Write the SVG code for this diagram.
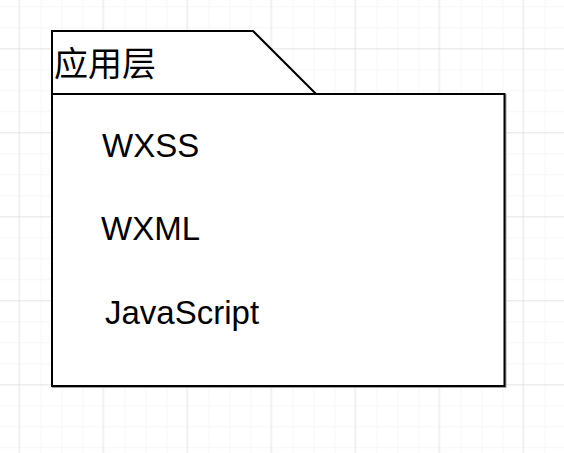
<svg xmlns="http://www.w3.org/2000/svg" width="564" height="453" viewBox="0 0 564 453">
  <defs>
    <pattern id="minor" x="19.5" y="6.3" width="21" height="21" patternUnits="userSpaceOnUse">
      <path d="M 0 0 L 0 21 M 0 0 L 21 0" fill="none" stroke="#f0f0f0" stroke-width="1.2"/>
    </pattern>
    <pattern id="major" x="19.5" y="48.3" width="84" height="84" patternUnits="userSpaceOnUse">
      <path d="M 84 0 L 84 84 M 0 0 L 84 0" fill="none" stroke="#d4d4d4" stroke-width="1"/>
    </pattern>
    <style>
      .shape { fill: #ffffff; stroke: #000000; stroke-width: 2; }
      .shadow { fill: none; stroke: #a0a0a0; stroke-width: 2; }
      .lbl { font-family: "Liberation Sans", Arial, sans-serif; font-size: 33px; fill: #000000; }
      .cjk { font-family: "Noto Sans CJK SC", "Microsoft YaHei", sans-serif; font-size: 34px; fill: #000000; }
    </style>
  </defs>
  <rect width="564" height="453" fill="#ffffff"/>
  <rect width="564" height="453" fill="url(#minor)"/>
  <rect width="564" height="453" fill="url(#major)"/>
  <g id="package">
    <path class="shadow" transform="translate(1,1)" d="M 52 31 L 253 31 L 316 94 L 504.5 94 L 504.5 386 L 52 386 Z"/>
    <path class="shape" d="M 52 31 L 253 31 L 316 94 L 504.5 94 L 504.5 386 L 52 386 Z"/>
    <path d="M 52 94 L 316 94" fill="none" stroke="#000000" stroke-width="2"/>
    <text class="cjk" x="54" y="76">应用层</text>
  </g>
  <g id="wxss"><text class="lbl" x="102" y="157">WXSS</text></g>
  <g id="wxml"><text class="lbl" x="101" y="240">WXML</text></g>
  <g id="javascript"><text class="lbl" x="105" y="324">JavaScript</text></g>
  <g id="connectors"/>
</svg>
